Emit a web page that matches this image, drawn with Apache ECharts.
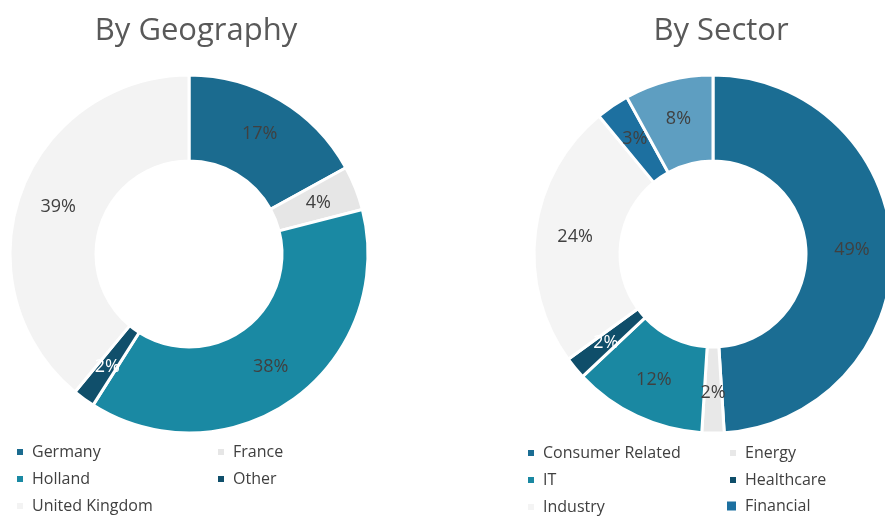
<!DOCTYPE html>
<html>
<head>
<meta charset="utf-8">
<script src="https://cdn.jsdelivr.net/npm/echarts@6/dist/echarts.min.js"></script>
<style>
  html, body { margin: 0; padding: 0; background: #fff; }
  #chart { width: 885px; height: 516px; }
</style>
</head>
<body>
<div id="chart"></div>
<script>
// geography split, clockwise from 12 o'clock
const geoNames = ['Germany', 'France', 'Holland', 'Other', 'United Kingdom'];
const geoValues = [17, 4, 38, 2, 39];
const geoColors = ['#1b6b8f', '#e6e6e6', '#1a89a3', '#104f6b', '#f3f3f3'];

// sector split; last slice has no legend entry in the original
const secNames = ['Consumer Related', 'Energy', 'IT', 'Healthcare', 'Industry', 'Financial', 'Others'];
const secValues = [49, 2, 12, 2, 24, 3, 8];
const secColors = ['#1b6d93', '#e8e8e8', '#1a88a2', '#0f4e6a', '#f4f4f4', '#1d70a0', '#5e9ec1'];

// legend grid: which names go in which cell
const geoLegendRows = [['Germany', 'France'], ['Holland', 'Other'], ['United Kingdom', null]];
const secLegendRows = [['Consumer Related', 'Energy'], ['IT', 'Healthcare'], ['Industry', 'Financial']];

const FONT = '"Open Sans", "DejaVu Sans", sans-serif';

function pieData(names, values, colors, lightLabel) {
  return names.map((n, i) => ({
    name: n,
    value: values[i],
    itemStyle: { color: colors[i] },
    label: { color: lightLabel.indexOf(n) >= 0 ? '#ffffff' : '#404040' }
  }));
}

// one legend per cell so the columns line up like the original
function legendCells(rows, colX, top0, rowH) {
  const out = [];
  rows.forEach((row, r) => {
    row.forEach((name, c) => {
      if (!name) return;
      const big = name === 'Financial';
      out.push({
        data: [name],
        left: colX[c] - (big ? 3 : 0),
        top: top0 + r * rowH - (big ? 1 : 0),
        padding: 0,
        icon: 'rect',
        itemWidth: big ? 11 : 8,
        itemHeight: big ? 11 : 8,
        selectedMode: false,
        textStyle: { fontFamily: FONT, fontSize: 16, color: '#404040', padding: [0, 0, 0, 3] }
      });
    });
  });
  return out;
}

const pieBase = {
  type: 'pie',
  radius: [93, 179],
  startAngle: 90,
  clockwise: true,
  silent: true,
  avoidLabelOverlap: false,
  itemStyle: { borderColor: '#ffffff', borderWidth: 3 },
  label: {
    show: true,
    position: 'inside',
    formatter: '{c}%',
    fontFamily: FONT,
    fontSize: 18
  },
  labelLine: { show: false }
};

const titleStyle = { fontFamily: FONT, fontSize: 31, fontWeight: 'normal', color: '#595959' };

const chart = echarts.init(document.getElementById('chart'), null, { renderer: 'canvas' });
chart.setOption({
  animation: false,
  title: [
    { text: 'By Geography', left: 196, top: 16, padding: 0, textAlign: 'center', textStyle: titleStyle },
    { text: 'By Sector', left: 721, top: 16, padding: 0, textAlign: 'center', textStyle: titleStyle }
  ],
  legend: legendCells(geoLegendRows, [15, 216], 444, 27)
    .concat(legendCells(secLegendRows, [526, 728], 445, 27)),
  series: [
    Object.assign({}, pieBase, {
      name: 'By Geography',
      center: [189, 254],
      data: pieData(geoNames, geoValues, geoColors, ['Other'])
    }),
    Object.assign({}, pieBase, {
      name: 'By Sector',
      center: [713, 254],
      data: pieData(secNames, secValues, secColors, ['Healthcare'])
    })
  ]
});
</script>
</body>
</html>
